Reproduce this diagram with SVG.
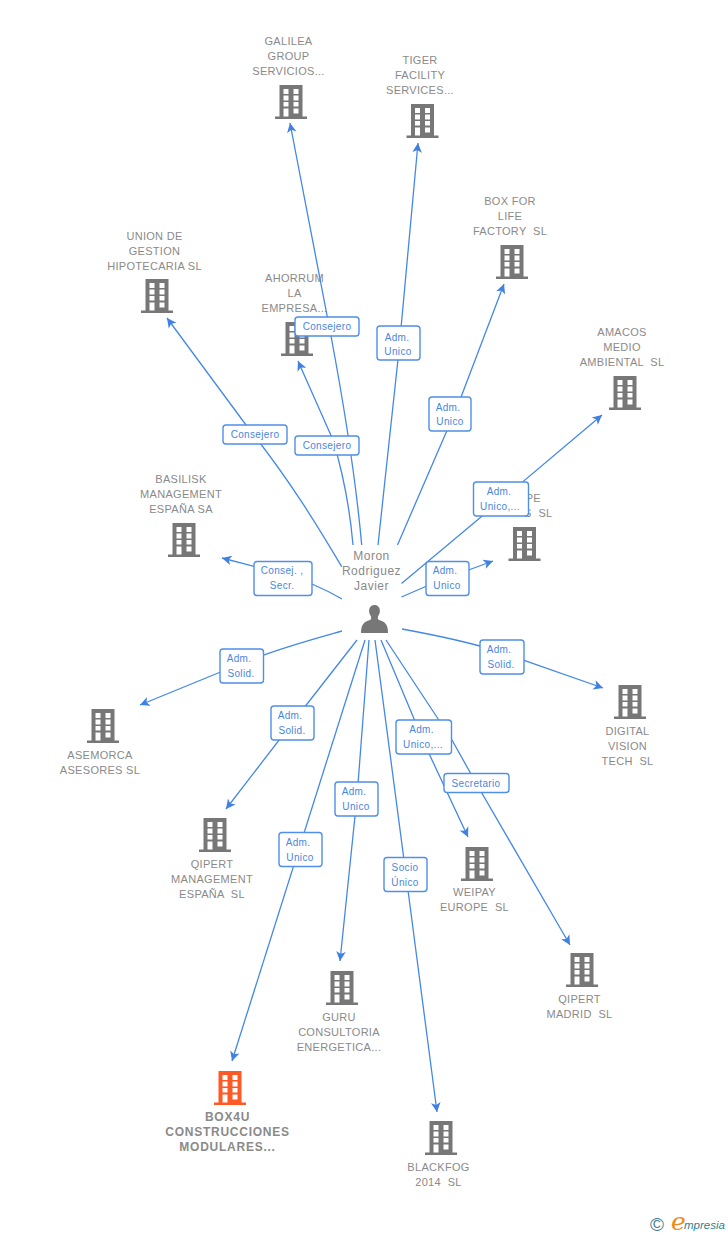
<svg xmlns="http://www.w3.org/2000/svg" width="728" height="1235" viewBox="0 0 728 1235">
<style>
text{font-family:"Liberation Sans",Arial,sans-serif;white-space:pre}
.n{font-size:11px;fill:#8a8a8a;text-anchor:middle;letter-spacing:.3px}
.b{font-size:12px;font-weight:bold;letter-spacing:.75px}
.p{font-size:12px;letter-spacing:.5px}
.a{stroke:#4488e6;stroke-width:1.3;fill:none;stroke-linejoin:round;marker-end:url(#ah)}
.lb{fill:#fff;stroke:#4f8fe8;stroke-width:1.4}
.lt{font-size:10px;fill:#4a86e0;text-anchor:middle;letter-spacing:.35px}
</style>
<defs>
<marker id="ah" markerUnits="userSpaceOnUse" viewBox="-10 -6 12 12" markerWidth="12" markerHeight="12" refX="0" refY="0" orient="auto"><path d="M0 0L-9.500 -4.800L-7 0L-9.500 4.800Z" fill="#3f80e2"/></marker>
<symbol id="bld" viewBox="-16 0 32 34" width="32" height="34" overflow="visible">
<path fill-rule="evenodd" d="M-11.500 0H11.500V31.600H16V34H-16V31.600H-11.500ZM-7.500 4V9H-2.500V4ZM2.500 4V9H7.500V4ZM-7.500 10.500V15.500H-2.500V10.500ZM2.500 10.500V15.500H7.500V10.500ZM-7.500 17V21.500H-2.500V17ZM2.500 17V21.500H7.500V17ZM-7.500 23.500V31.600H-2.500V23.500ZM2.500 23.500V28.500H7.500V23.500Z"/>
</symbol>
</defs>
<rect width="728" height="1235" fill="#fff"/>
<g id="n-galilea" fill="#777"><use href="#bld" x="275" y="85"/><text class="n" x="288.500" y="45">GALILEA</text><text class="n" x="288.500" y="60">GROUP</text><text class="n" x="288.500" y="75">SERVICIOS...</text></g>
<g id="n-tiger" fill="#777"><use href="#bld" x="406.500" y="104"/><text class="n" x="420" y="64">TIGER</text><text class="n" x="420" y="79">FACILITY</text><text class="n" x="420" y="94">SERVICES...</text></g>
<g id="n-boxforlife" fill="#777"><use href="#bld" x="496" y="245"/><text class="n" x="510" y="205">BOX FOR</text><text class="n" x="510" y="220">LIFE</text><text class="n" x="510" y="235">FACTORY  SL</text></g>
<g id="n-union" fill="#777"><use href="#bld" x="141" y="279"/><text class="n" x="154.500" y="240">UNION DE</text><text class="n" x="154.500" y="255">GESTION</text><text class="n" x="154.500" y="270">HIPOTECARIA SL</text></g>
<g id="n-ahorrum" fill="#777"><use href="#bld" x="281" y="322"/><text class="n" x="294.500" y="282">AHORRUM</text><text class="n" x="294.500" y="297">LA</text><text class="n" x="294.500" y="312">EMPRESA...</text></g>
<g id="n-amacos" fill="#777"><use href="#bld" x="609" y="376"/><text class="n" x="622" y="336">AMACOS</text><text class="n" x="622" y="351">MEDIO</text><text class="n" x="622" y="366">AMBIENTAL  SL</text></g>
<g id="n-basilisk" fill="#777"><use href="#bld" x="168" y="523"/><text class="n" x="181" y="483">BASILISK</text><text class="n" x="181" y="498">MANAGEMENT</text><text class="n" x="181" y="513">ESPAÑA SA</text></g>
<g id="n-pe" fill="#777"><use href="#bld" x="508.500" y="527"/><text class="n" style="text-anchor:end" x="541" y="502">PE</text><text class="n" style="text-anchor:end" x="552.500" y="517">S  SL</text></g>
<g id="n-digital" fill="#777"><use href="#bld" x="614" y="685"/><text class="n" x="627.500" y="735">DIGITAL</text><text class="n" x="627.500" y="750">VISION</text><text class="n" x="627.500" y="765">TECH  SL</text></g>
<g id="n-asemorca" fill="#777"><use href="#bld" x="87" y="709"/><text class="n" x="100" y="759">ASEMORCA</text><text class="n" x="100" y="774">ASESORES SL</text></g>
<g id="n-qipertm" fill="#777"><use href="#bld" x="199" y="818"/><text class="n" x="212" y="868">QIPERT</text><text class="n" x="212" y="883">MANAGEMENT</text><text class="n" x="212" y="898">ESPAÑA  SL</text></g>
<g id="n-weipay" fill="#777"><use href="#bld" x="461" y="847"/><text class="n" x="474.500" y="896">WEIPAY</text><text class="n" x="474.500" y="911">EUROPE  SL</text></g>
<g id="n-guru" fill="#777"><use href="#bld" x="326" y="971"/><text class="n" x="339" y="1021">GURU</text><text class="n" x="339" y="1036">CONSULTORIA</text><text class="n" x="339" y="1051">ENERGETICA...</text></g>
<g id="n-qipertmadrid" fill="#777"><use href="#bld" x="566" y="953"/><text class="n" x="579.500" y="1003">QIPERT</text><text class="n" x="579.500" y="1018">MADRID  SL</text></g>
<g id="n-box4u" fill="#ff5a26"><use href="#bld" x="214" y="1071"/><text class="n b" x="227.500" y="1121">BOX4U</text><text class="n b" x="227.500" y="1136">CONSTRUCCIONES</text><text class="n b" x="227.500" y="1151">MODULARES...</text></g>
<g id="n-blackfog" fill="#777"><use href="#bld" x="425" y="1121"/><text class="n" x="438.500" y="1171">BLACKFOG</text><text class="n" x="438.500" y="1186">2014  SL</text></g>
<g id="n-moron"><text class="n p" x="371.500" y="560">Moron</text><text class="n p" x="371.500" y="575">Rodriguez</text><text class="n p" x="371.500" y="590">Javier</text>
<path fill="#777" d="M361 633C361 624 364 622 370 620C371.500 619.500 371.500 617 370.500 615.500C368 612 368.500 605 374.500 605C380.500 605 381 612 378.500 615.500C377.500 617 377.500 619.500 379 620C385 622 388 624 388 633Z"/></g>
<g id="connectors">
<path class="a" d="M353 545C350 510 345 480 333 440L298 361"/>
<path class="a" d="M361.700 545C355 470 343 400 331 336L290 123"/>
<path class="a" d="M378 545L399 350L418 143"/>
<path class="a" d="M397.500 545L458 405L504 284"/>
<path class="a" d="M341.700 566.700C320 530 290 480 246 425L167 318"/>
<path class="a" d="M342 599C325 589 300 578 283 574L222 558"/>
<path class="a" d="M401.500 583.500L481 517L602 415"/>
<path class="a" d="M401.500 597L436 582L493 561"/>
<path class="a" d="M402 629C440 636 470 642 500 652L603 688"/>
<path class="a" d="M342 631C310 640 280 648 245 662L140 705"/>
<path class="a" d="M357 640L293 722L226 809"/>
<path class="a" d="M369 640L357 797L340 961"/>
<path class="a" d="M365 640L232 1061"/>
<path class="a" d="M375 640L406 875L437 1112"/>
<path class="a" d="M381 640L425 745L468 837"/>
<path class="a" d="M386 640L452 740L476 783L570 945"/>
</g>
<g id="labels">
<g><rect class="lb" x="295" y="317" width="64" height="19" rx="3"/><text class="lt" x="327" y="330">Consejero</text></g>
<g><rect class="lb" x="223" y="425" width="64" height="19" rx="3"/><text class="lt" x="255" y="438">Consejero</text></g>
<g><rect class="lb" x="295" y="436" width="64" height="19" rx="3"/><text class="lt" x="327" y="449">Consejero</text></g>
<g><rect class="lb" x="377" y="326" width="43" height="34" rx="3"/><text class="lt" x="397" y="341">Adm.</text><text class="lt" x="398" y="355">Unico</text></g>
<g><rect class="lb" x="429" y="397" width="42" height="34" rx="3"/><text class="lt" x="448" y="411">Adm.</text><text class="lt" x="450" y="425">Unico</text></g>
<g><rect class="lb" x="473.500" y="482" width="55" height="34" rx="3"/><text class="lt" x="499" y="495">Adm.</text><text class="lt" x="500" y="510">Unico,...</text></g>
<g><rect class="lb" x="426" y="561.500" width="43" height="34" rx="3"/><text class="lt" x="445" y="574">Adm.</text><text class="lt" x="447" y="589">Unico</text></g>
<g><rect class="lb" x="254" y="561.500" width="58" height="34" rx="3"/><text class="lt" x="282" y="574">Consej. ,</text><text class="lt" x="282" y="589">Secr.</text></g>
<g><rect class="lb" x="220" y="649" width="43.500" height="34" rx="3"/><text class="lt" x="239" y="662">Adm.</text><text class="lt" x="241" y="677">Solid.</text></g>
<g><rect class="lb" x="480" y="640" width="44" height="34" rx="3"/><text class="lt" x="499" y="653">Adm.</text><text class="lt" x="501" y="668">Solid.</text></g>
<g><rect class="lb" x="271" y="706" width="43" height="34" rx="3"/><text class="lt" x="290" y="719">Adm.</text><text class="lt" x="292" y="734">Solid.</text></g>
<g><rect class="lb" x="396" y="720" width="55.500" height="34" rx="3"/><text class="lt" x="421.500" y="733">Adm.</text><text class="lt" x="423" y="748">Unico,...</text></g>
<g><rect class="lb" x="444" y="773.500" width="65" height="19" rx="3"/><text class="lt" x="476" y="787">Secretario</text></g>
<g><rect class="lb" x="335" y="782" width="43" height="34" rx="3"/><text class="lt" x="354" y="795">Adm.</text><text class="lt" x="356" y="810">Unico</text></g>
<g><rect class="lb" x="279" y="832.500" width="43" height="34" rx="3"/><text class="lt" x="298" y="846">Adm.</text><text class="lt" x="300" y="861">Unico</text></g>
<g><rect class="lb" x="384" y="857.500" width="43" height="34" rx="3"/><text class="lt" x="405" y="871">Socio</text><text class="lt" x="405" y="886">Único</text></g>
</g>
<g id="logo"><text x="650" y="1231" font-size="19" fill="#3f7f92">©</text><text x="671" y="1230" font-size="25" font-style="italic" fill="#f08a1c" style="font-family:'DejaVu Serif',serif">e</text><text x="684" y="1229" font-size="11.500" font-style="italic" fill="#2f7f8f">mpresia</text></g>
</svg>
